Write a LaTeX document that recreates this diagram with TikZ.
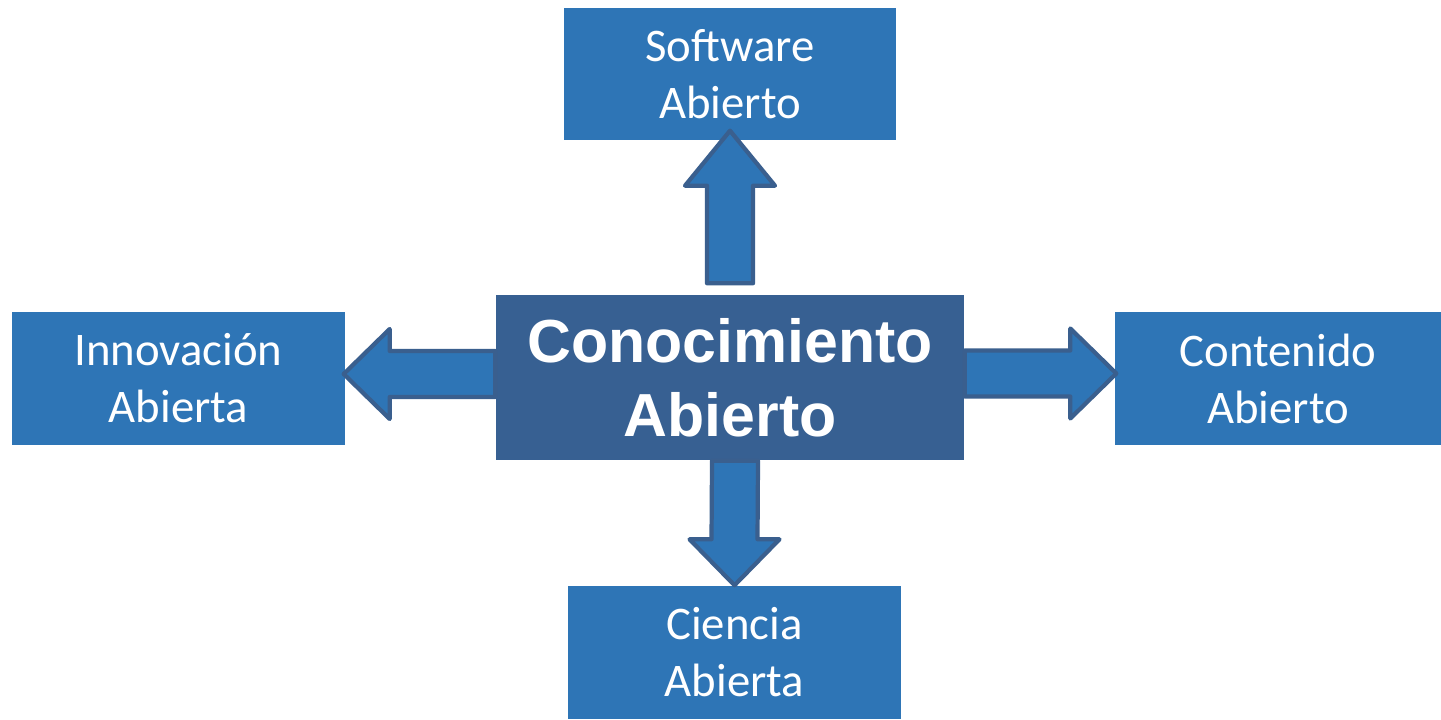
\documentclass[tikz,border=0pt]{standalone}
\usepackage{fontspec}
\setmainfont{Carlito}
\newfontfamily\arialfont{Liberation Sans}
\usetikzlibrary{calc}
\definecolor{BoxBlue}{RGB}{46,117,182}
\definecolor{CoreBlue}{RGB}{55,96,146}
\definecolor{EdgeBlue}{RGB}{58,95,142}

\begin{document}
\begin{tikzpicture}[
  box/.style={fill=BoxBlue,text=white,align=center,inner sep=0pt,font=\fontsize{13.3}{16.2}\selectfont},
  corebox/.style={fill=CoreBlue,text=white,align=center,inner sep=0pt,minimum width=4.68cm,minimum height=1.65cm,font=\arialfont\bfseries\fontsize{17.3}{21}\selectfont},
  bigarrow/.style={fill=BoxBlue,draw=EdgeBlue,line width=1.2pt,line join=round}]
\useasboundingbox (0,0) rectangle (14.41,7.19);
\def\sh{.23}
\def\hd{.45}
\def\hl{.46}

\node[box,minimum width=3.32cm,minimum height=1.32cm] (sw) at (7.30,6.45) {Software\\Abierto};
\node[box,minimum width=3.33cm,minimum height=1.33cm] (inn) at (1.785,3.405) {Innovación\\Abierta};
\node[box,minimum width=3.26cm,minimum height=1.33cm] (con) at (12.78,3.405) {Contenido\\Abierto};
\node[box,minimum width=3.33cm,minimum height=1.33cm] (cie) at (7.345,0.665) {Ciencia\\Abierta};
\node[corebox] (core) at (7.30,3.415) {Conocimiento\\Abierto};

% ends of the fat arrows
\coordinate (up0) at ($(core.north)+(0,.11)$);
\coordinate (up1) at ($(sw.south)+(0,.10)$);
\coordinate (lf0) at ($(core.west)+(0,.035)$);
\coordinate (lf1) at ($(inn.east)+(-.02,.045)$);
\coordinate (rt0) at ($(core.east)+(0,.04)$);
\coordinate (rt1) at ($(con.west)+(.02,.05)$);
\coordinate (dn0) at ($(core.south)+(.05,0)$);
\coordinate (dn1) at ($(cie.north)+(0,0)$);

\draw[bigarrow] ($(up0)+(-\sh,0)$) -- ($(up1)+(-\sh,-\hl-.09)$) -- ($(up1)+(-\hd,-\hl-.09)$) -- (up1)
  -- ($(up1)+(\hd,-\hl-.09)$) -- ($(up1)+(\sh,-\hl-.09)$) -- ($(up0)+(\sh,0)$) -- cycle;
\draw[bigarrow] ($(lf0)+(0,\sh)$) -- ($(lf1)+(\hl,\sh)$) -- ($(lf1)+(\hl,\hd)$) -- (lf1)
  -- ($(lf1)+(\hl,-\hd)$) -- ($(lf1)+(\hl,-\sh)$) -- ($(lf0)+(0,-\sh)$) -- cycle;
\draw[bigarrow] ($(rt0)+(0,\sh)$) -- ($(rt1)+(-\hl,\sh)$) -- ($(rt1)+(-\hl,\hd)$) -- (rt1)
  -- ($(rt1)+(-\hl,-\hd)$) -- ($(rt1)+(-\hl,-\sh)$) -- ($(rt0)+(0,-\sh)$) -- cycle;
\draw[bigarrow] ($(dn0)+(-\sh,0)$) -- ($(dn1)+(-\sh,\hl)$) -- ($(dn1)+(-\hd,\hl)$) -- (dn1)
  -- ($(dn1)+(\hd,\hl)$) -- ($(dn1)+(\sh,\hl)$) -- ($(dn0)+(\sh,0)$) -- cycle;
\end{tikzpicture}
\end{document}
